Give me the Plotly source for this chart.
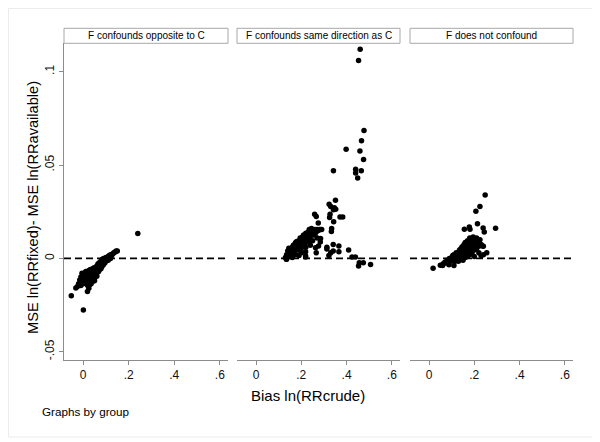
import plotly.graph_objects as go

# panel titles (Stata "by(group)" strips)
groups = ["F confounds opposite to C", "F confounds same direction as C", "F does not confound"]

# F confounds opposite to C
bias_opp = [-0.02, -0.015, -0.01, -0.01, -0.005, 0.0, 0.0, 0.005, 0.005, 0.01, 0.01, 0.012, 0.015, 0.015,
            0.018, 0.02, 0.02, 0.022, 0.025, 0.025, 0.028, 0.03, 0.03, 0.032, 0.035, 0.035, 0.038, 0.04,
            0.04, 0.042, 0.045, 0.045, 0.048, 0.05, 0.05, 0.052, 0.055, 0.055, 0.058, 0.06, 0.06, 0.062,
            0.065, 0.065, 0.068, 0.07, 0.07, 0.072, 0.075, 0.075, 0.078, 0.08, 0.08, 0.082, 0.085, 0.085,
            0.088, 0.09, 0.09, 0.095, 0.095, 0.1, 0.1, 0.105, 0.11, 0.11, 0.115, 0.12, 0.12, 0.125, 0.13,
            0.135, 0.14, 0.145, 0.15,
            0.01, 0.02, 0.04, 0.05, 0.06, 0.045, -0.005, 0.035,
            -0.052, 0.001, -0.032, 0.019, 0.24, 0.025, -0.025, 0.03]
dmse_opp = [-0.0135, -0.0115, -0.0145, -0.010, -0.0125, -0.0095, -0.0135, -0.0085, -0.0115, -0.013, -0.0095,
            -0.007, -0.0115, -0.0085, -0.0135, -0.0075, -0.0105, -0.0125, -0.0065, -0.0095, -0.0115, -0.008,
            -0.0105, -0.006, -0.009, -0.0115, -0.0065, -0.0085, -0.0105, -0.0055, -0.0075, -0.0095, -0.005,
            -0.0065, -0.0105, -0.0085, -0.005, -0.007, -0.009, -0.004, -0.006, -0.0075, -0.003, -0.0055,
            -0.007, -0.0025, -0.0045, -0.006, -0.002, -0.004, -0.0055, -0.001, -0.003, -0.0045, -0.0005,
            -0.0025, -0.0035, 0.0, -0.002, -0.0005, -0.0025, 0.0005, -0.0015, 0.0, 0.001, -0.001, 0.0015,
            0.002, 0.0, 0.0015, 0.0025, 0.003, 0.0035, 0.004, 0.004,
            -0.0075, -0.0145, -0.0125, -0.012, -0.0095, -0.0115, -0.008, -0.0135,
            -0.020, -0.0276, -0.0158, -0.0177, 0.0133, -0.016, -0.015, -0.014]

# F confounds same direction as C
bias_same = [0.13, 0.135, 0.135, 0.14, 0.14, 0.145, 0.145, 0.15, 0.15, 0.155, 0.155, 0.16, 0.16, 0.165, 0.165,
             0.17, 0.17, 0.17, 0.175, 0.175, 0.18, 0.18, 0.18, 0.185, 0.185, 0.19, 0.19, 0.19, 0.195, 0.195,
             0.2, 0.2, 0.2, 0.205, 0.205, 0.21, 0.21, 0.21, 0.215, 0.215, 0.22, 0.22, 0.22, 0.225, 0.225,
             0.23, 0.23, 0.23, 0.235, 0.235, 0.24, 0.24, 0.24, 0.245, 0.245, 0.25, 0.25, 0.255, 0.26, 0.26,
             0.265, 0.27, 0.275, 0.28, 0.285, 0.29,
             0.16, 0.175, 0.2, 0.19, 0.22, 0.24, 0.25, 0.27, 0.134,
             0.219, 0.219, 0.219, 0.285, 0.284, 0.276, 0.263, 0.266, 0.313, 0.313, 0.322, 0.33,
             0.341, 0.341, 0.366, 0.366, 0.409, 0.424, 0.439, 0.456, 0.453, 0.474, 0.506,
             0.334, 0.333, 0.259, 0.266, 0.275, 0.327, 0.325, 0.371, 0.383,
             0.323, 0.33, 0.351, 0.346, 0.342, 0.352, 0.343,
             0.342, 0.44, 0.44, 0.465, 0.449, 0.398, 0.459, 0.475, 0.466, 0.477, 0.453, 0.46]
dmse_same = [0.0005, 0.002, -0.0005, 0.004, 0.001, 0.0025, 0.0055, 0.0035, 0.001, 0.005, 0.002, 0.006, 0.0035,
             0.0045, 0.007, 0.005, 0.0075, 0.0025, 0.006, 0.0085, 0.007, 0.0045, 0.009, 0.008, 0.0055, 0.0095,
             0.007, 0.0045, 0.0085, 0.011, 0.01, 0.0075, 0.0055, 0.0115, 0.009, 0.0105, 0.0125, 0.008, 0.0095,
             0.012, 0.0135, 0.011, 0.0085, 0.0125, 0.01, 0.014, 0.0115, 0.009, 0.013, 0.0155, 0.0145, 0.012,
             0.0095, 0.0135, 0.016, 0.015, 0.0125, 0.014, 0.0155, 0.0125, 0.014, 0.0155, 0.015, 0.0155, 0.0155,
             0.0155,
             0.0005, 0.002, 0.003, 0.0015, 0.006, 0.007, 0.0095, 0.011, -0.0005,
             0.0036, 0.0013, 0.0007, 0.0106, 0.0088, 0.0066, 0.0057, 0.003, 0.006, 0.0051, 0.0016, 0.003,
             0.0074, 0.004, 0.0066, 0.0036, 0.0045, 0.0007, 0.0007, -0.0023, -0.0041, -0.0023, -0.0032,
             0.016, 0.0144, 0.0237, 0.0224, 0.019, 0.0237, 0.0219, 0.0222, 0.0222,
             0.029, 0.0278, 0.0312, 0.0272, 0.026, 0.0263, 0.0197,
             0.047, 0.0478, 0.0457, 0.0469, 0.043, 0.0584, 0.0575, 0.053, 0.063, 0.0685, 0.106, 0.112]

# F does not confound
bias_none = [0.08, 0.09, 0.095, 0.1, 0.1, 0.105, 0.11, 0.11, 0.115, 0.115, 0.12, 0.12, 0.125, 0.125, 0.13, 0.13,
             0.13, 0.135, 0.135, 0.14, 0.14, 0.14, 0.145, 0.145, 0.15, 0.15, 0.15, 0.155, 0.155, 0.16, 0.16,
             0.16, 0.165, 0.165, 0.17, 0.17, 0.17, 0.175, 0.175, 0.18, 0.18, 0.18, 0.185, 0.185, 0.19, 0.19,
             0.195, 0.195, 0.2, 0.2, 0.2, 0.205, 0.21, 0.21, 0.215, 0.22, 0.22, 0.225, 0.23, 0.23, 0.24, 0.24,
             0.018, 0.05, 0.063, 0.06, 0.088, 0.11, 0.255, 0.236, 0.248, 0.225, 0.207, 0.214, 0.294, 0.178,
             0.181, 0.239, 0.244, 0.156, 0.07, 0.075]
dmse_none = [-0.001, 0.0, -0.0015, 0.0005, -0.001, 0.0015, 0.0, 0.002, -0.0015, 0.001, 0.003, 0.0005, -0.001,
             0.002, 0.0035, 0.001, -0.0015, 0.0045, 0.0025, 0.0, 0.005, 0.003, 0.0015, 0.006, 0.004, 0.0065,
             -0.001, 0.0025, 0.0075, 0.005, 0.0085, 0.0005, 0.007, 0.0035, 0.0095, 0.006, 0.001, 0.008, 0.0045,
             0.011, 0.007, 0.002, 0.0095, 0.0055, 0.0085, 0.003, 0.0115, 0.0065, 0.0095, 0.0045, 0.001, 0.0075,
             0.011, 0.005, 0.0085, 0.0065, 0.003, 0.01, 0.0075, 0.0015, 0.002, 0.0065,
             -0.0052, -0.0036, -0.0029, -0.0038, -0.0034, -0.0038, 0.003, 0.0066, 0.034, 0.0278, 0.0253,
             0.0185, 0.0161, 0.0168, 0.0156, 0.0163, 0.0141, 0.0156, -0.002, -0.0025]

x_ticks = [0, 0.2, 0.4, 0.6]
x_ticktext = ["0", ".2", ".4", ".6"]
y_ticks = [-0.05, 0, 0.05, 0.1]
y_ticktext = ["-.05", "0", ".05", ".1"]

# the page body has an 8px margin, so the figure is drawn 8px smaller
OFF = 8
W, H = 600 - OFF, 442 - OFF
FONT = "Arial, Liberation Sans, sans-serif"


def px_x(p):
    return (p - OFF) / W


def px_y(p):
    return 1 - (p - OFF) / H


panels_px = [(64, 228), (237, 400), (410, 573)]
top_px, bottom_px = 43.3, 360
series = [(bias_opp, dmse_opp), (bias_same, dmse_same), (bias_none, dmse_none)]

fig = go.Figure()
layout = dict(
    width=W, height=H, margin=dict(l=0, r=0, t=0, b=0),
    paper_bgcolor="white", plot_bgcolor="white",
    font=dict(family=FONT, color="black"),
    showlegend=False,
)
shapes = []
annotations = []

for i, ((xs, ys), (l, r)) in enumerate(zip(series, panels_px)):
    n = "" if i == 0 else str(i + 1)
    fig.add_trace(go.Scatter(
        x=xs, y=ys, mode="markers", xaxis="x" + n, yaxis="y" + n,
        marker=dict(color="black", size=5.5, line=dict(width=0)),
        hoverinfo="skip"
    ))
    layout["xaxis" + n] = dict(
        domain=[px_x(l), px_x(r)], range=[-0.084, 0.636], anchor="y" + n,
        tickvals=x_ticks, ticktext=x_ticktext, ticks="outside", ticklen=4,
        tickcolor="#8c8c8c", showline=True, linecolor="#8c8c8c", linewidth=1,
        showgrid=False, zeroline=False, tickfont=dict(size=12, color="#111")
    )
    layout["yaxis" + n] = dict(
        domain=[px_y(bottom_px), px_y(top_px)], range=[-0.0544, 0.1152],
        anchor="x" + n, showgrid=False, zeroline=False,
        tickvals=y_ticks, ticktext=y_ticktext, tickangle=-90,
        showline=(i == 0), linecolor="#8c8c8c", linewidth=1,
        ticks="outside" if i == 0 else "", ticklen=4, tickcolor="#8c8c8c",
        showticklabels=(i == 0), tickfont=dict(size=12, color="#111")
    )
    # dashed reference line at zero
    shapes.append(dict(type="line", xref="x" + n + " domain", yref="y" + n,
                       x0=0, x1=1, y0=0, y1=0,
                       line=dict(color="black", width=1.6, dash="7px,4px")))
    # strip box
    shapes.append(dict(type="rect", xref="paper", yref="paper",
                       x0=px_x(l), x1=px_x(r), y0=px_y(top_px), y1=px_y(28.3),
                       line=dict(color="#a8a8a8", width=1), fillcolor="white"))
    annotations.append(dict(text=groups[i], xref="paper", yref="paper",
                            x=(px_x(l) + px_x(r)) / 2, y=px_y(36), showarrow=False,
                            xanchor="center", yanchor="middle",
                            font=dict(size=10, color="black")))

# faint outer border of the graph region
shapes.append(dict(type="rect", xref="paper", yref="paper",
                   x0=px_x(8.5), x1=px_x(593), y0=px_y(437), y1=px_y(8.5),
                   line=dict(color="#ececec", width=1)))

annotations += [
    dict(text="Bias ln(RRcrude)", xref="paper", yref="paper", x=px_x(308.3), y=px_y(395),
         showarrow=False, xanchor="center", yanchor="middle", font=dict(size=15)),
    dict(text="MSE ln(RRfixed)- MSE ln(RRavailable)", xref="paper", yref="paper",
         x=px_x(33), y=px_y(208), textangle=-90, showarrow=False,
         xanchor="center", yanchor="middle", font=dict(size=14.6)),
    dict(text="Graphs by group", xref="paper", yref="paper", x=px_x(40), y=px_y(411),
         showarrow=False, xanchor="left", yanchor="middle", font=dict(size=11.7)),
]

layout["shapes"] = shapes
layout["annotations"] = annotations
fig.update_layout(**layout)
fig.write_html("out.html")
